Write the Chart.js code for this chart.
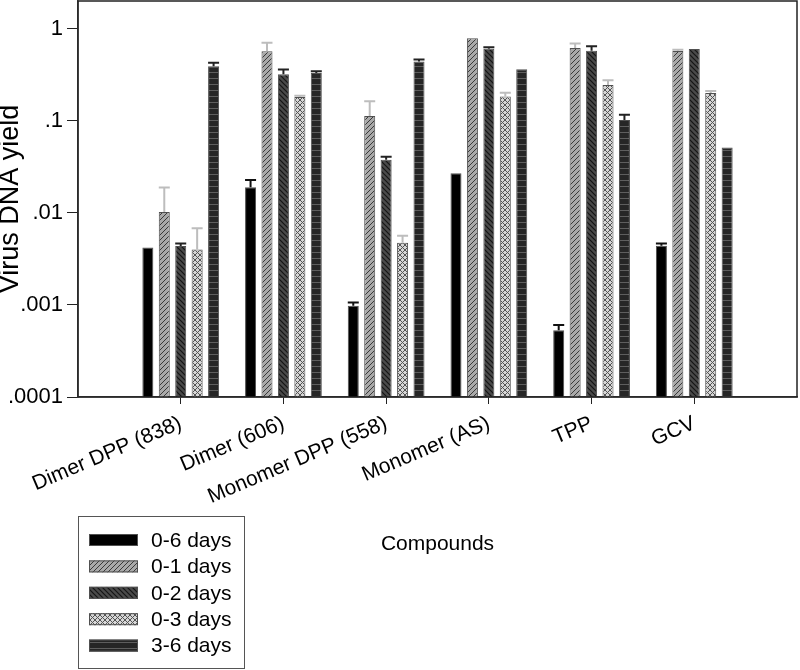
<!DOCTYPE html>
<html>
<head>
<meta charset="utf-8">
<script src="https://cdn.jsdelivr.net/npm/chart.js@4.4.1/dist/chart.umd.min.js"></script>
<style>
  body { margin: 0; background: #fff; }
  canvas { display: block; }
</style>
</head>
<body>
<canvas id="chart" width="800" height="670"></canvas>
<script>
// Chart data
const compounds = ['Dimer DPP (838)', 'Dimer (606)', 'Monomer DPP (558)', 'Monomer (AS)', 'TPP', 'GCV'];
const seriesNames = ['0-6 days', '0-1 days', '0-2 days', '0-3 days', '3-6 days'];

const days0to6 = [0.0042, 0.019, 0.00098, 0.027, 0.00053, 0.0044];
const days0to1 = [0.0102, 0.57, 0.113, 0.79, 0.616, 0.571];
const days0to2 = [0.00436, 0.321, 0.0378, 0.607, 0.577, 0.601];
const days0to3 = [0.00401, 0.181, 0.00475, 0.184, 0.244, 0.200];
const days3to6 = [0.392, 0.330, 0.441, 0.364, 0.102, 0.0514];

// upper end of the error bars (null = none drawn)
const upper0to6 = [null, 0.0227, 0.00106, null, 0.000605, 0.00466];
const upper0to1 = [0.0189, 0.705, 0.163, null, 0.692, 0.592];
const upper0to2 = [0.00466, 0.361, 0.0408, 0.631, 0.647, null];
const upper0to3 = [0.00679, 0.187, 0.00565, 0.202, 0.275, 0.210];
const upper3to6 = [0.427, 0.346, 0.464, null, 0.116, null];

const yTicks = [1, 0.1, 0.01, 0.001, 0.0001];
const yTickLabels = ['1', '.1', '.01', '.001', '.0001'];

const FONT = '"Liberation Sans", Arial, sans-serif';

window.onload = function() {
    const canvas = document.getElementById('chart');
    const ctx = canvas.getContext('2d');

    // hatch fills, one small tile each
    const makePattern = (bg, size, draw) => {
        const tile = document.createElement('canvas');
        tile.width = size;
        tile.height = size;
        const g = tile.getContext('2d');
        g.fillStyle = bg;
        g.fillRect(0, 0, size, size);
        draw(g, size);
        return ctx.createPattern(tile, 'repeat');
    };
    const slash = (g, s) => {
        g.beginPath();
        g.moveTo(0, s); g.lineTo(s, 0);
        g.moveTo(-1, 1); g.lineTo(1, -1);
        g.moveTo(s - 1, s + 1); g.lineTo(s + 1, s - 1);
        g.stroke();
    };
    const backslash = (g, s) => {
        g.beginPath();
        g.moveTo(0, 0); g.lineTo(s, s);
        g.moveTo(s - 1, -1); g.lineTo(s + 1, 1);
        g.moveTo(-1, s - 1); g.lineTo(1, s + 1);
        g.stroke();
    };

    const fills = [
        '#000000',
        makePattern('#a9a9a9', 5, (g, s) => { g.strokeStyle = '#3a3a3a'; g.lineWidth = 1; slash(g, s); }),
        makePattern('#4a4a4a', 5, (g, s) => { g.strokeStyle = '#151515'; g.lineWidth = 1.2; backslash(g, s); }),
        makePattern('#d6d6d6', 5, (g, s) => { g.strokeStyle = '#555555'; g.lineWidth = 1; slash(g, s); backslash(g, s); }),
        makePattern('#262626', 6, (g, s) => { g.fillStyle = '#5e5e5e'; g.fillRect(0, 0, s, 1); })
    ];
    const errColors = ['#111', '#bdbdbd', '#222', '#bdbdbd', '#222'];

    const values = [days0to6, days0to1, days0to2, days0to3, days3to6];
    const uppers = [upper0to6, upper0to1, upper0to2, upper0to3, upper3to6];

    // empty slots at both ends so the groups sit one step in from the frame
    const labels = [''].concat(compounds, ['']);
    const pad = (arr) => [null].concat(arr, [null]);

    const datasets = seriesNames.map((name, i) => ({
        label: name,
        data: pad(values[i]),
        backgroundColor: fills[i],
        borderColor: '#505050',
        borderWidth: 1
    }));

    const errorBars = {
        id: 'errorBars',
        afterDatasetsDraw(chart) {
            const c = chart.ctx;
            const y = chart.scales.y;
            c.save();
            uppers.forEach((up, d) => {
                const meta = chart.getDatasetMeta(d);
                const full = pad(up);
                full.forEach((v, i) => {
                    if (v === null) return;
                    const bar = meta.data[i];
                    const yTop = y.getPixelForValue(v);
                    const half = bar.width / 2;
                    c.strokeStyle = errColors[d];
                    c.lineWidth = 2;
                    c.beginPath();
                    c.moveTo(bar.x, bar.y);
                    c.lineTo(bar.x, yTop);
                    c.moveTo(bar.x - half, yTop);
                    c.lineTo(bar.x + half, yTop);
                    c.stroke();
                });
            });
            c.restore();
        }
    };

    const frameAndLegend = {
        id: 'frameAndLegend',
        afterDraw(chart) {
            const c = chart.ctx;
            const a = chart.chartArea;
            c.save();
            c.strokeStyle = '#222';
            c.lineWidth = 1.5;
            c.strokeRect(a.left, a.top, a.right - a.left, a.bottom - a.top);

            // legend box, lower left
            c.strokeStyle = '#555';
            c.lineWidth = 1;
            c.strokeRect(78.5, 516.5, 166, 152);
            c.font = '21px ' + FONT;
            c.textBaseline = 'middle';
            c.textAlign = 'left';
            chart.data.datasets.forEach((ds, i) => {
                const cy = 540 + i * 26.4;
                c.fillStyle = ds.backgroundColor;
                c.fillRect(89, cy - 6, 49, 12);
                c.strokeStyle = '#505050';
                c.strokeRect(89.5, cy - 5.5, 48, 11);
                c.fillStyle = '#000';
                c.fillText(ds.label, 151, cy + 1);
            });
            c.restore();
        }
    };

    new Chart(ctx, {
        type: 'bar',
        data: { labels: labels, datasets: datasets },
        options: {
            responsive: false,
            animation: false,
            layout: { padding: { top: 1, right: 3, left: 0, bottom: 0 } },
            datasets: {
                bar: { categoryPercentage: 0.8, barPercentage: 0.67 }
            },
            plugins: {
                legend: { display: false },
                tooltip: { enabled: false }
            },
            scales: {
                x: {
                    offset: false,
                    grid: {
                        offset: false,
                        drawOnChartArea: false,
                        tickLength: 7,
                        color: (c) => (c.index === 0 || c.index === labels.length - 1) ? 'rgba(0,0,0,0)' : '#222'
                    },
                    border: { display: true, color: '#444', width: 1.5 },
                    ticks: {
                        autoSkip: false,
                        minRotation: 23,
                        maxRotation: 23,
                        padding: 7,
                        color: '#000',
                        font: { family: FONT, size: 21 }
                    },
                    title: {
                        display: true,
                        text: 'Compounds',
                        color: '#000',
                        font: { family: FONT, size: 21 },
                        padding: { top: 0, bottom: 113 }
                    },
                    afterFit(scale) {
                        scale.height = 273;
                        scale.paddingLeft = 0;
                        scale.paddingRight = 0;
                    }
                },
                y: {
                    type: 'logarithmic',
                    min: 0.0001,
                    max: 2,
                    grid: { drawOnChartArea: false, tickLength: 11, color: '#222' },
                    border: { display: true, color: '#444', width: 1.5 },
                    afterBuildTicks(scale) {
                        scale.ticks = yTicks.map(v => ({ value: v }));
                    },
                    ticks: {
                        padding: 4,
                        color: '#000',
                        font: { family: FONT, size: 22 },
                        callback: (value) => {
                            const k = yTicks.findIndex(t => Math.abs(t - value) / t < 1e-6);
                            return k >= 0 ? yTickLabels[k] : '';
                        }
                    },
                    title: {
                        display: true,
                        text: 'Virus DNA yield',
                        color: '#000',
                        font: { family: FONT, size: 27, lineHeight: 0.8 },
                        padding: 0
                    },
                    afterFit(scale) {
                        scale.width = 78;
                        scale.paddingTop = 0;
                        scale.paddingBottom = 0;
                    }
                }
            }
        },
        plugins: [errorBars, frameAndLegend]
    });
};
</script>
</body>
</html>
